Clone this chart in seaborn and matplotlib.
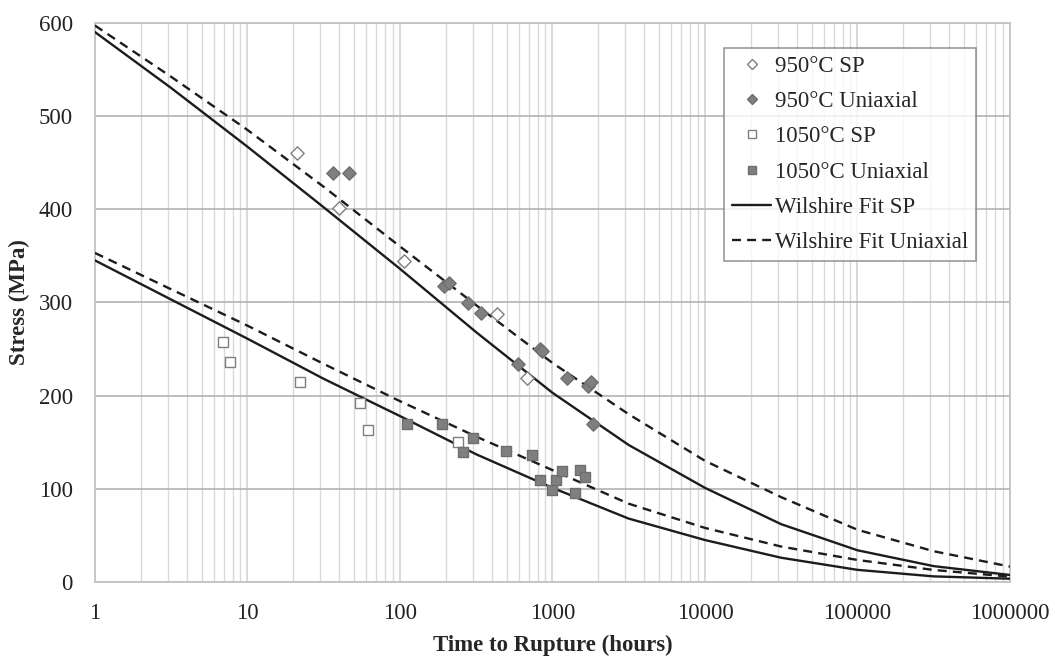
import matplotlib
matplotlib.use("Agg")
import matplotlib.pyplot as plt
from matplotlib.lines import Line2D
from matplotlib.ticker import LogLocator, NullFormatter
import pandas as pd
import seaborn as sns

# measured rupture points (hours, MPa)
sp950_t = [21, 40, 106, 430, 677]
sp950_s = [460, 401, 344, 287, 219]
uni950_t = [36.5, 46, 195, 210, 280, 340, 597, 828, 860, 1239, 1700, 1790, 1850]
uni950_s = [439, 439, 318, 321, 299, 289, 234, 250, 248, 219, 210, 215, 170]
sp1050_t = [6.9, 7.7, 22, 55, 62, 241]
sp1050_s = [257, 236, 215, 192, 163, 150]
uni1050_t = [112, 188, 261, 303, 495, 738, 828, 997, 1054, 1161, 1405, 1514, 1633]
uni1050_s = [170, 170, 139, 155, 140, 136, 109, 99, 109, 119, 95, 120, 113]

# Wilshire fit curves at half-decade steps
fit_t = [1, 3.16, 10, 31.6, 100, 316, 1000, 3160, 1e4, 3.16e4, 1e5, 3.16e5, 1e6]
fit_sp950 = [590, 530, 467, 402, 336, 268, 203, 147, 101, 62, 34, 17, 7.5]
fit_uni950 = [597, 542, 485, 424, 360, 297, 235, 180, 130, 91, 56, 33, 16.5]
fit_sp1050 = [345, 303, 261, 218, 178, 137, 101, 68, 45, 26, 13, 6, 3.5]
fit_uni1050 = [353, 314, 275, 234, 194, 156, 120, 84, 58, 38, 23.6, 12.9, 5.7]

x_ticks = [1, 10, 100, 1000, 10000, 100000, 1000000]
x_ticklabels = ["1", "10", "100", "1000", "10000", "100000", "1000000"]
y_ticks = [0, 100, 200, 300, 400, 500, 600]

sns.set_style("white")
plt.rcParams["font.family"] = ["Liberation Serif", "DejaVu Serif"]

fig = plt.figure(figsize=(10.55, 6.57), dpi=100)
ax = fig.add_axes([0.0900, 0.1142, 0.8673, 0.8512])
ax.set_xscale("log")

line_col = "#1c1c1c"
dash = (3.8, 2.6)
for ys, dashed in [(fit_sp950, False), (fit_uni950, True),
                   (fit_sp1050, False), (fit_uni1050, True)]:
    df = pd.DataFrame({"t": fit_t, "s": ys})
    sns.lineplot(data=df, x="t", y="s", ax=ax, color=line_col, lw=1.7,
                 legend=False, zorder=3)
    if dashed:
        ax.lines[-1].set_dashes(dash)

gray = "#7f7f7f"
edge = "#6e6e6e"
pts = [
    (sp950_t, sp950_s, "D", "white", gray, 46),
    (uni950_t, uni950_s, "D", gray, edge, 46),
    (sp1050_t, sp1050_s, "s", "white", gray, 42),
    (uni1050_t, uni1050_s, "s", gray, edge, 42),
]
for t, s, m, fc, ec, sz in pts:
    sns.scatterplot(x=t, y=s, ax=ax, marker=m, s=sz, facecolor=fc,
                    edgecolor=ec, linewidth=1.0, legend=False, zorder=4)

ax.set_xlim(1, 1e6)
ax.set_ylim(0, 600)
ax.set_xticks(x_ticks)
ax.set_xticklabels(x_ticklabels)
ax.xaxis.set_minor_locator(LogLocator(base=10, subs=range(2, 10), numticks=20))
ax.xaxis.set_minor_formatter(NullFormatter())
ax.set_yticks(y_ticks)
ax.tick_params(axis="both", which="both", length=0, labelsize=16.5,
               colors="#222222")
ax.tick_params(axis="x", pad=15)
ax.tick_params(axis="y", pad=16)

ax.grid(True, axis="y", which="major", color="#b3b3b3", lw=1.2)
ax.grid(True, axis="x", which="major", color="#cfcfcf", lw=1.1)
ax.grid(True, axis="x", which="minor", color="#d9d9d9", lw=1.0)
ax.set_axisbelow(True)
for sp in ax.spines.values():
    sp.set_color("#c4c4c4")
    sp.set_linewidth(1.3)

ax.set_xlabel("Time to Rupture (hours)", fontsize=16.5, fontweight="bold",
              labelpad=8)
ax.set_ylabel("Stress (MPa)", fontsize=16.5, fontweight="bold", labelpad=6)

# legend built by hand so markers and lines come in the original order
handles = [
    Line2D([], [], ls="none", marker="D", ms=5.5, mfc="white", mec=gray, mew=1.0),
    Line2D([], [], ls="none", marker="D", ms=5.5, mfc=gray, mec=edge, mew=1.0),
    Line2D([], [], ls="none", marker="s", ms=5.5, mfc="white", mec=gray, mew=1.0),
    Line2D([], [], ls="none", marker="s", ms=5.5, mfc=gray, mec=edge, mew=1.0),
    Line2D([], [], color=line_col, lw=1.7),
    Line2D([], [], color=line_col, lw=1.7, dashes=dash),
]
labels = ["950°C SP", "950°C Uniaxial", "1050°C SP", "1050°C Uniaxial",
          "Wilshire Fit SP", "Wilshire Fit Uniaxial"]
leg = ax.legend(handles, labels, loc="upper right",
                bbox_to_anchor=(0.963, 0.955), borderaxespad=0,
                fontsize=16.5, frameon=True, fancybox=False,
                handlelength=1.7, handletextpad=0.15, labelspacing=0.62,
                borderpad=0.35)
leg.get_frame().set_edgecolor("#808080")
leg.get_frame().set_linewidth(1.2)

fig.savefig("out.png", dpi=100)
